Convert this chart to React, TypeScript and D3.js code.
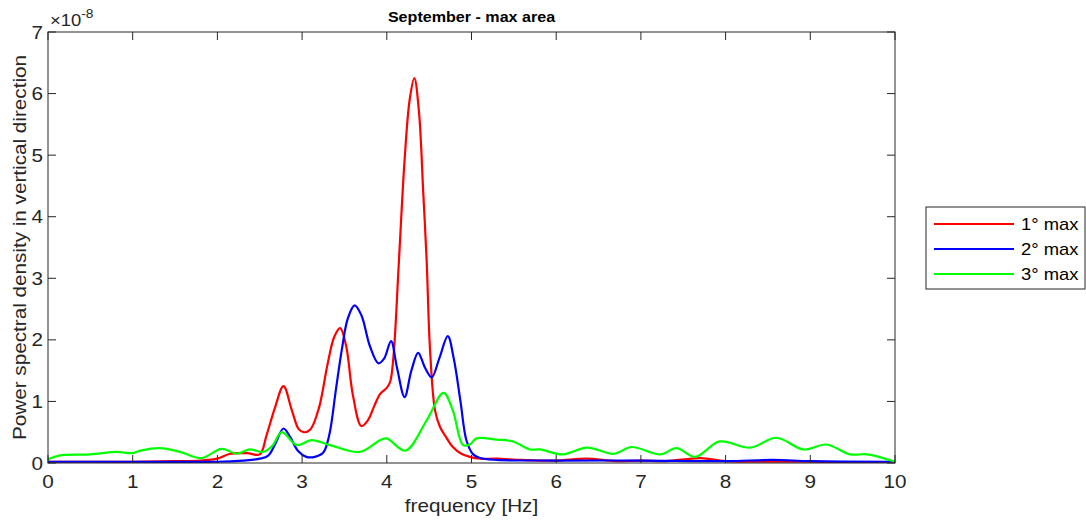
import React from "react";
import * as d3 from "d3";

const redF = [0, 0.5, 1.0, 1.5, 1.8, 2.0, 2.15, 2.35, 2.5, 2.58, 2.68, 2.78, 2.88, 2.96, 3.02, 3.1, 3.2, 3.3, 3.38, 3.45, 3.52, 3.6, 3.7, 3.78, 3.85, 3.92, 4.0, 4.04, 4.08, 4.14, 4.21, 4.27, 4.325, 4.38, 4.43, 4.47, 4.51, 4.57, 4.63, 4.7, 4.78, 4.88, 4.98, 5.1, 5.3, 5.6, 6.0, 6.36, 6.7, 7.0, 7.3, 7.7, 8.0, 8.5, 9.0, 9.5, 10];
const redV = [0.02, 0.02, 0.02, 0.03, 0.04, 0.07, 0.15, 0.16, 0.14, 0.45, 0.9, 1.25, 0.85, 0.55, 0.5, 0.55, 0.9, 1.6, 2.05, 2.19, 1.9, 1.1, 0.6, 0.7, 0.92, 1.12, 1.22, 1.32, 1.75, 3.2, 4.92, 5.9, 6.25, 5.7, 4.4, 3.3, 1.85, 0.85, 0.58, 0.42, 0.26, 0.15, 0.1, 0.07, 0.07, 0.05, 0.04, 0.07, 0.03, 0.04, 0.03, 0.08, 0.03, 0.02, 0.02, 0.01, 0.01];

const blueF = [0, 1.0, 2.0, 2.3, 2.5, 2.6, 2.68, 2.78, 2.86, 2.95, 3.05, 3.15, 3.25, 3.32, 3.4, 3.47, 3.54, 3.62, 3.7, 3.8, 3.9, 3.97, 4.05, 4.12, 4.21, 4.29, 4.37, 4.45, 4.53, 4.62, 4.72, 4.79, 4.87, 4.94, 5.02, 5.1, 5.3, 6.0, 7.0, 8.0, 8.56, 9.0, 10];
const blueV = [0.02, 0.02, 0.02, 0.04, 0.07, 0.12, 0.3, 0.56, 0.42, 0.2, 0.1, 0.1, 0.17, 0.45, 1.2, 1.85, 2.35, 2.56, 2.4, 1.9, 1.62, 1.7, 1.98, 1.55, 1.07, 1.5, 1.79, 1.55, 1.39, 1.7, 2.06, 1.7, 1.0, 0.37, 0.14, 0.08, 0.05, 0.04, 0.04, 0.03, 0.05, 0.03, 0.02];

const greenF = [0, 0.14, 0.5, 0.81, 0.99, 1.09, 1.32, 1.56, 1.81, 2.05, 2.23, 2.38, 2.54, 2.65, 2.76, 2.94, 3.11, 3.33, 3.68, 3.92, 4.0, 4.22, 4.47, 4.67, 4.78, 4.9, 4.98, 5.06, 5.3, 5.49, 5.69, 5.81, 6.08, 6.36, 6.68, 6.89, 7.23, 7.42, 7.64, 7.93, 8.29, 8.6, 8.92, 9.19, 9.47, 9.67, 10];
const greenV = [0.06, 0.125, 0.14, 0.18, 0.16, 0.2, 0.24, 0.18, 0.08, 0.23, 0.15, 0.22, 0.18, 0.28, 0.5, 0.29, 0.37, 0.29, 0.18, 0.37, 0.4, 0.2, 0.69, 1.14, 0.85, 0.29, 0.3, 0.4, 0.38, 0.35, 0.22, 0.22, 0.14, 0.25, 0.15, 0.26, 0.14, 0.24, 0.1, 0.35, 0.25, 0.41, 0.22, 0.3, 0.14, 0.14, 0.02];

const xTicks = [0, 1, 2, 3, 4, 5, 6, 7, 8, 9, 10];
const yTicks = [0, 1, 2, 3, 4, 5, 6, 7];
const seriesNames = ["1° max", "2° max", "3° max"];
const seriesColors = ["#ff0000", "#0000ff", "#00ff00"];

const W = 1086, H = 521;
const L = 48, R = 895, T = 32, B = 463;
const font = "'Liberation Sans', Arial, Helvetica, sans-serif";
const axisColor = "#262626";
const SX = 1.15;

function Txt(props: {
  x: number;
  y: number;
  size: number;
  anchor?: string;
  weight?: string;
  rotate?: number;
  fill?: string;
  children: React.ReactNode;
}) {
  const { x, y, size, anchor = "start", weight = "normal", rotate = 0, fill = axisColor, children } = props;
  return (
    <g transform={`translate(${x},${y}) rotate(${rotate}) scale(${SX},1)`}>
      <text x={0} y={0} fontSize={size} fontWeight={weight} textAnchor={anchor} fill={fill}>
        {children}
      </text>
    </g>
  );
}

export default function App() {
  const x = d3.scaleLinear().domain([0, 10]).range([L, R]);
  const y = d3.scaleLinear().domain([0, 7]).range([B, T]);
  const line = d3
    .line<[number, number]>()
    .x((d) => x(d[0]))
    .y((d) => y(d[1]))
    .curve(d3.curveCatmullRom.alpha(0.5));
  const series = [
    redF.map((f, i) => [f, redV[i]] as [number, number]),
    blueF.map((f, i) => [f, blueV[i]] as [number, number]),
    greenF.map((f, i) => [f, greenV[i]] as [number, number]),
  ];
  const tl = 8;
  return (
    <svg
      width={W}
      height={H}
      style={{ position: "absolute", left: 0, top: 0, background: "#fff" }}
      fontFamily={font}
    >
      <rect x={0} y={0} width={W} height={H} fill="#fff" />
      <defs>
        <clipPath id="plotclip">
          <rect x={L} y={T} width={R - L} height={B - T} />
        </clipPath>
      </defs>
      <g clipPath="url(#plotclip)">
        {series.map((s, i) => (
          <path key={i} d={line(s) || ""} fill="none" stroke={seriesColors[i]} strokeWidth={2.2} strokeLinejoin="round" />
        ))}
      </g>
      <rect x={L} y={T} width={R - L} height={B - T} fill="none" stroke={axisColor} strokeWidth={1} />
      {xTicks.map((t) => (
        <g key={"x" + t}>
          <line x1={x(t)} x2={x(t)} y1={B} y2={B - tl} stroke={axisColor} />
          <line x1={x(t)} x2={x(t)} y1={T} y2={T + tl} stroke={axisColor} />
          <Txt x={x(t)} y={487.5} size={18} anchor="middle">
            {t}
          </Txt>
        </g>
      ))}
      {yTicks.map((t) => (
        <g key={"y" + t}>
          <line x1={L} x2={L + tl} y1={y(t)} y2={y(t)} stroke={axisColor} />
          <line x1={R} x2={R - tl} y1={y(t)} y2={y(t)} stroke={axisColor} />
          <Txt x={43} y={y(t) + 6.5} size={18} anchor="end">
            {t}
          </Txt>
        </g>
      ))}
      <Txt x={50} y={26} size={16}>
        ×10
        <tspan dy={-8} fontSize={12}>-8</tspan>
      </Txt>
      <Txt x={(L + R) / 2} y={22} size={14} weight="bold" anchor="middle" fill="#000">
        September - max area
      </Txt>
      <Txt x={(L + R) / 2} y={512} size={18} anchor="middle">
        frequency [Hz]
      </Txt>
      <Txt x={26} y={(T + B) / 2} size={18} anchor="middle" rotate={-90}>
        Power spectral density in vertical direction
      </Txt>
      <rect x={926} y={207} width={159} height={82} fill="#fff" stroke={axisColor} strokeWidth={1} />
      {seriesNames.map((n, i) => (
        <g key={n}>
          <line x1={934} x2={1014} y1={224 + i * 25} y2={224 + i * 25} stroke={seriesColors[i]} strokeWidth={2.2} />
          <Txt x={1021} y={230 + i * 25} size={16} fill="#000">
            {n}
          </Txt>
        </g>
      ))}
    </svg>
  );
}
